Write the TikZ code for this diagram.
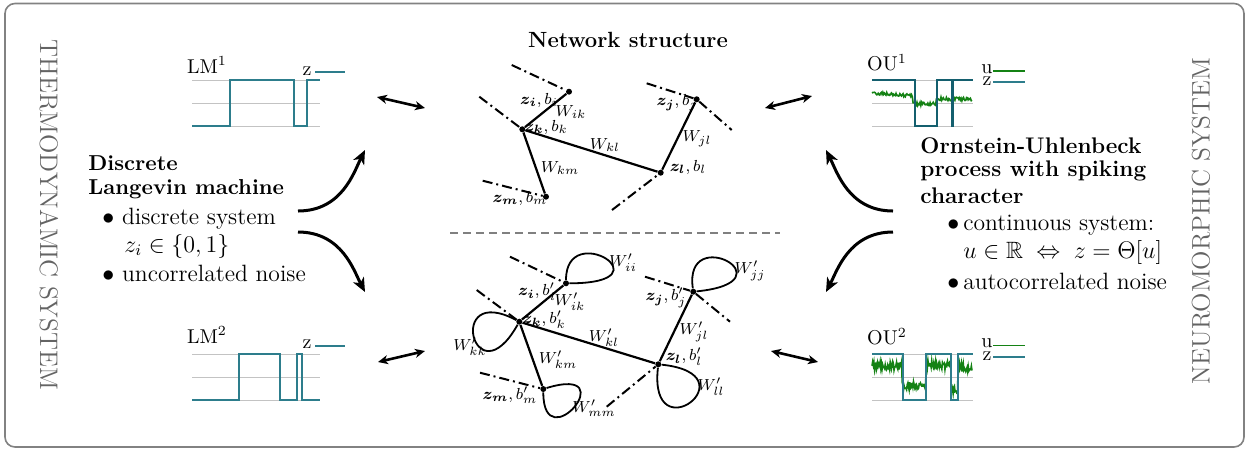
\documentclass[tikz,border=0pt]{standalone}
\usepackage{amsmath,amssymb,bm}
\usetikzlibrary{arrows.meta}
\definecolor{teal1}{RGB}{45,125,140}
\definecolor{teal2}{RGB}{20,95,110}
\definecolor{green1}{RGB}{20,130,20}
\definecolor{lgray}{RGB}{195,195,195}
\definecolor{bordergray}{RGB}{130,130,130}
\definecolor{sidegray}{RGB}{100,100,100}
\begin{document}
\begin{tikzpicture}[x=0.5pt,y=-0.5pt,
  txt/.style={anchor=west,inner sep=0pt,font=\fontsize{11.8}{14}\selectfont},
  btxt/.style={anchor=west,inner sep=0pt,font=\fontsize{10.8}{13}\selectfont\bfseries},
  rbtxt/.style={anchor=west,inner sep=0pt,font=\fontsize{11.3}{13}\selectfont\bfseries},
  netdot/.style={circle,fill=black,inner sep=0pt,minimum size=3pt},
  lnk/.style={line width=1.1pt},
  dd/.style={line width=1pt,dash pattern=on 5pt off 2pt on 1pt off 2pt},
  lbl/.style={font=\footnotesize,inner sep=0pt},
  gline/.style={draw=lgray,line width=0.5pt},
  sig/.style={draw=teal1,line width=0.8pt},
  noisy/.style={draw=green1,line width=0.8pt},
  bigarrow/.style={line width=1.5pt,-{Stealth[length=7pt,width=6pt,inset=2pt]}},
  dblarrow/.style={line width=1.3pt,{Stealth[length=5pt,width=4.5pt,inset=1.5pt]}-{Stealth[length=5pt,width=4.5pt,inset=1.5pt]}},
  loopst/.style={line width=0.9pt},
  side/.style={font=\fontsize{12.7}{14}\selectfont,text=sidegray,inner sep=0pt}
]
\useasboundingbox (0,0) rectangle (1249,452);
\draw[bordergray,line width=0.8pt,rounded corners=5pt] (5,3.5) rectangle (1244,447);

% side labels
\node[side,rotate=-90] (thermo) at (49,215) {THERMODYNAMIC SYSTEM};
\node[side,rotate=90] (neuro) at (1201,221) {NEUROMORPHIC SYSTEM};

% title
\node[font=\fontsize{11}{13}\selectfont\bfseries,inner sep=0pt] (title) at (628,40) {Network structure};

% left text
\node[btxt] (d1) at (88,163) {Discrete};
\node[btxt] (d2) at (88,189) {Langevin machine};
\node[txt] (d3) at (102,219) {$\bullet$ discrete system};
\node[txt] (d4) at (124,246) {$z_i\in\{0,1\}$};
\node[txt] (d5) at (102,273) {$\bullet$ uncorrelated noise};

% right text
\node[rbtxt] (o1) at (920,146) {Ornstein-Uhlenbeck};
\node[rbtxt] (o2) at (920,171) {process with spiking};
\node[rbtxt] (o3) at (920,196) {character};
\node[txt] (o4) at (947,225) {$\bullet$\,continuous system:};
\node[txt] (o5) at (963,252) {$u\in\mathbb{R}\;\Leftrightarrow\; z=\Theta[u]$};
\node[txt] (o6) at (947,281) {$\bullet$\,autocorrelated noise};

% big curved arrows
\coordinate (la1) at (298,211); \coordinate (la2) at (365,150);
\coordinate (lb1) at (298,232); \coordinate (lb2) at (365,292);
\coordinate (ra1) at (893,211); \coordinate (ra2) at (826,150);
\coordinate (rb1) at (893,232); \coordinate (rb2) at (826,292);
\draw[bigarrow] (la1) .. controls (342,211) and (354,172) .. (la2);
\draw[bigarrow] (lb1) .. controls (342,232) and (354,271) .. (lb2);
\draw[bigarrow] (ra1) .. controls (849,211) and (837,172) .. (ra2);
\draw[bigarrow] (rb1) .. controls (849,232) and (837,271) .. (rb2);

% double arrows
\coordinate (da1) at (377,97);  \coordinate (da2) at (425,108);
\coordinate (db1) at (765,108); \coordinate (db2) at (812,96);
\coordinate (dc1) at (378,362); \coordinate (dc2) at (425,351);
\coordinate (dd1) at (771,351); \coordinate (dd2) at (818,362);
\draw[dblarrow] (da1) -- (da2);
\draw[dblarrow] (db1) -- (db2);
\draw[dblarrow] (dc1) -- (dc2);
\draw[dblarrow] (dd1) -- (dd2);

% separator
\coordinate (s1) at (450,233); \coordinate (s2) at (780,233);
\draw[gray,line width=0.6pt,dash pattern=on 4pt off 2.5pt] (s1) -- (s2);

% ---------- LM1 ----------
\node[inner sep=0pt] (lm1) at (207,65) {LM$^1$};
\foreach \yy in {80,103,126} \draw[gline] (192,\yy) -- (320,\yy);
\draw[sig] (192,126) -- (230,126) -- (230,80) -- (294,80) -- (294,126) -- (307,126) -- (307,80) -- (320,80);
\node[inner sep=0pt] (lm1z) at (307,71) {z};
\draw[teal1,line width=0.8pt] (315,72) -- (345,72);

% ---------- LM2 ----------
\node[inner sep=0pt] (lm2) at (207,335) {LM$^2$};
\foreach \yy in {354,377,400} \draw[gline] (192,\yy) -- (320,\yy);
\draw[sig] (192,400) -- (239,400) -- (239,354) -- (280,354) -- (280,400) -- (297,400) -- (297,354) -- (302,354) -- (302,400) -- (320,400);
\node[inner sep=0pt] (lm2z) at (307,344) {z};
\draw[teal1,line width=0.8pt] (315,346) -- (345,346);

% ---------- OU1 ----------
\node[inner sep=0pt] (ou1) at (887,63) {OU$^1$};
\foreach \yy in {80,103,126} \draw[gline] (872,\yy) -- (973,\yy);
\pgfmathsetseed{11}
\draw[noisy] plot[domain=872:972,samples=130] (\x,{ (\x<913 ? 93+0.07*(\x-872) : (\x<936 ? 104 : 99)) + 1.8*rand });
\draw[teal2,line width=0.8pt] (872,80) -- (915,80) -- (915,126) -- (937,126) -- (937,80) -- (952,80) -- (952,126) -- (953.5,126) -- (953.5,80) -- (973,80);
\node[inner sep=0pt] (ou1u) at (987,69) {u};
\node[inner sep=0pt] (ou1z) at (987,81) {z};
\draw[green1,line width=0.8pt] (993,71) -- (1025,71);
\draw[teal1,line width=0.8pt] (993,82) -- (1025,82);

% ---------- OU2 ----------
\node[inner sep=0pt] (ou2) at (887,337) {OU$^2$};
\foreach \yy in {354,377,400} \draw[gline] (872,\yy) -- (973,\yy);
\pgfmathsetseed{5}
\draw[noisy] plot[domain=872:972,samples=160] (\x,{ (\x<902 ? 366 : (\x<926 ? 386 : (\x<951 ? 365 : (\x<958 ? 389 : 367)))) + 4.5*rand });
\draw[sig] (872,354) -- (903,354) -- (903,400) -- (926,400) -- (926,354) -- (951,354) -- (951,400) -- (958,400) -- (958,354) -- (973,354);
\node[inner sep=0pt] (ou2u) at (987,343) {u};
\node[inner sep=0pt] (ou2z) at (987,356) {z};
\draw[green1,line width=0.8pt] (993,345.5) -- (1025,345.5);
\draw[teal1,line width=0.8pt] (993,357) -- (1025,357);

% ---------- network top ----------
\node[netdot] (ti) at (569,91.7) {};
\node[netdot] (tk) at (522.3,129.3) {};
\node[netdot] (tm) at (546,196.7) {};
\node[netdot] (tl) at (660.7,172.7) {};
\node[netdot] (tj) at (696.7,99.3) {};
\coordinate (tia) at (511.7,65);
\coordinate (tka) at (479.3,96.7);
\coordinate (tma) at (482.7,180.7);
\coordinate (tla) at (612,210);
\coordinate (tja) at (646.7,83.3);
\coordinate (tjb) at (731.7,130);
\draw[dd] (tia) -- (ti);
\draw[dd] (tka) -- (tk);
\draw[dd] (tma) -- (tm);
\draw[dd] (tla) -- (tl);
\draw[dd] (tja) -- (tj) -- (tjb);
\draw[lnk] (ti) -- (tk);
\draw[lnk] (tk) -- (tm);
\draw[lnk] (tk) -- (tl);
\draw[lnk] (tl) -- (tj);
\node[lbl] (tli) at (539,100) {$\bm{z_i}, b_i$};
\node[lbl] (twik) at (571,112) {$W_{ik}$};
\node[lbl] (tlk) at (546,127) {$\bm{z_k}, b_k$};
\node[lbl] (twkl) at (605,145) {$W_{kl}$};
\node[lbl] (twkm) at (560,168) {$W_{km}$};
\node[lbl] (tlm) at (520,198) {$\bm{z_m}, b_m$};
\node[lbl] (tlj) at (677,103) {$\bm{z_j}, b_j$};
\node[lbl] (twjl) at (697,139) {$W_{jl}$};
\node[lbl] (tll) at (688,167) {$\bm{z_l}, b_l$};

% ---------- network bottom ----------
\node[netdot] (bi) at (566,283.3) {};
\node[netdot] (bk) at (519.3,321.7) {};
\node[netdot] (bm) at (543.3,389) {};
\node[netdot] (bl) at (658.3,364.3) {};
\node[netdot] (bj) at (693.3,291.7) {};
\coordinate (bia) at (510,256.7);
\coordinate (bka) at (476.7,290);
\coordinate (bma) at (480,372.7);
\coordinate (bla) at (606.7,406.7);
\coordinate (bja) at (645,276.7);
\coordinate (bjb) at (730,321.7);
\draw[dd] (bia) -- (bi);
\draw[dd] (bka) -- (bk);
\draw[dd] (bma) -- (bm);
\draw[dd] (bla) -- (bl);
\draw[dd] (bja) -- (bj) -- (bjb);
\draw[lnk] (bi) -- (bk);
\draw[lnk] (bk) -- (bm);
\draw[lnk] (bk) -- (bl);
\draw[lnk] (bl) -- (bj);
% self loops
\draw[loopst] (bi) .. controls +(0,-65) and +(105,0) .. (bi);
\draw[loopst] (bk) .. controls +(-75,-40) and +(-45,80) .. (bk);
\draw[loopst] (bm) .. controls +(0,72) and +(82,-25) .. (bm);
\draw[loopst] (bl) .. controls +(-10,90) and +(95,10) .. (bl);
\draw[loopst] (bj) .. controls +(-10,-70) and +(100,-10) .. (bj);
\node[lbl] (bli) at (537,292) {$\bm{z_i}, b'_i$};
\node[lbl] (bwik) at (570,302) {$W'_{ik}$};
\node[lbl] (blk) at (544,320) {$\bm{z_k}, b'_k$};
\node[lbl] (bwkl) at (604,338) {$W'_{kl}$};
\node[lbl] (bwkm) at (558,360) {$W'_{km}$};
\node[lbl] (blm) at (510,395) {$\bm{z_m}, b'_m$};
\node[lbl] (blj) at (666,298) {$\bm{z_j}, b'_j$};
\node[lbl] (bwjl) at (694,332) {$W'_{jl}$};
\node[lbl] (bll) at (684,357) {$\bm{z_l}, b'_l$};
\node[lbl] (bwii) at (623,263) {$W'_{ii}$};
\node[lbl] (bwkk) at (470,347) {$W'_{kk}$};
\node[lbl] (bwmm) at (594,408) {$W'_{mm}$};
\node[lbl] (bwll) at (711,387) {$W'_{ll}$};
\node[lbl] (bwjj) at (750,271) {$W'_{jj}$};
\end{tikzpicture}
\end{document}
